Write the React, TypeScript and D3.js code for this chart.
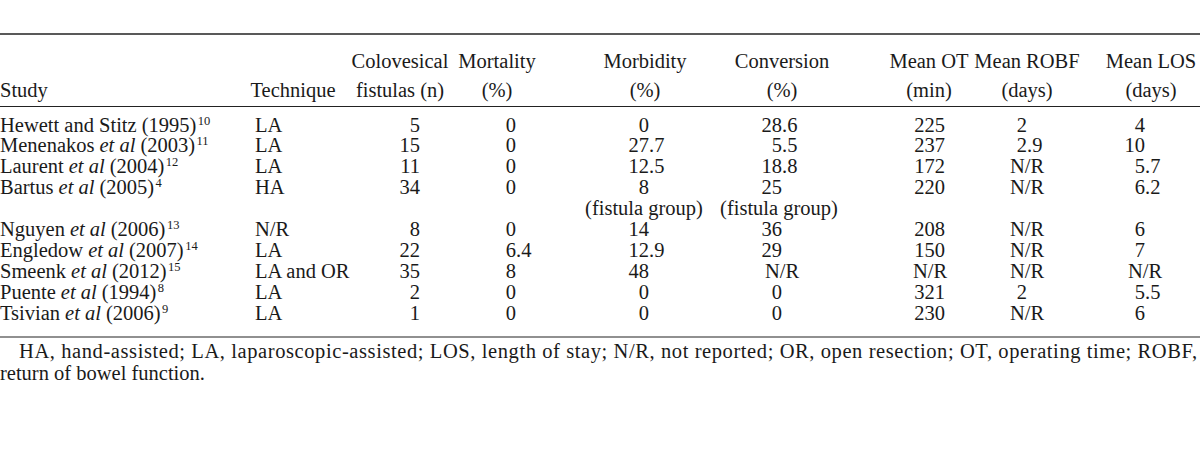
import React from "react";
import * as d3 from "d3";

// ---- Data ----
const studies = ["Hewett and Stitz", "Menenakos", "Laurent", "Bartus", "Nguyen", "Engledow", "Smeenk", "Puente", "Tsivian"];
const etAl = [false, true, true, true, true, true, true, true, true];
const years = ["1995", "2003", "2004", "2005", "2006", "2007", "2012", "1994", "2006"];
const refs = ["10", "11", "12", "4", "13", "14", "15", "8", "9"];
const techniques = ["LA", "LA", "LA", "HA", "N/R", "LA", "LA and OR", "LA", "LA"];
const fistulas = ["5", "15", "11", "34", "8", "22", "35", "2", "1"];
const mortality = ["0", "0", "0", "0", "0", "6.4", "8", "0", "0"];
const morbidity = ["0", "27.7", "12.5", "8", "14", "12.9", "48", "0", "0"];
const conversion = ["28.6", "5.5", "18.8", "25", "36", "29", "N/R", "0", "0"];
const meanOT = ["225", "237", "172", "220", "208", "150", "N/R", "321", "230"];
const meanROBF = ["2", "2.9", "N/R", "N/R", "N/R", "N/R", "N/R", "2", "N/R"];
const meanLOS = ["4", "10", "5.7", "6.2", "6", "7", "N/R", "5.5", "6"];
const morbidityNotes = ["", "", "", "(fistula group)", "", "", "", "", ""];
const conversionNotes = ["", "", "", "(fistula group)", "", "", "", "", ""];
const headerLine1 = ["", "", "Colovesical", "Mortality", "Morbidity", "Conversion", "Mean OT", "Mean ROBF", "Mean LOS"];
const headerLine2 = ["Study", "Technique", "fistulas (n)", "(%)", "(%)", "(%)", "(min)", "(days)", "(days)"];
const footnote1 = "HA, hand-assisted; LA, laparoscopic-assisted; LOS, length of stay; N/R, not reported; OR, open resection; OT, operating time; ROBF,";
const footnote2 = "return of bowel function.";

// ---- Layout ----
const W = 1200, H = 455;
const FONT = "'Liberation Serif', 'Times New Roman', serif";
const FS = 20.5;
const headerCenters = [0, 293, 400, 497, 645, 782, 929, 1027, 1151];
// integer-part right edge anchors for numeric columns
const anchors = [0, 255, 420, 516, 649, 782, 945, 1027, 1145];
const naCenters = [0, 0, 0, 0, 0, 782, 930, 1027, 1145];

// row slots: Bartus has an extra note row beneath it
const slotIndex: number[] = [];
{
  let s = 0;
  studies.forEach((_, i) => {
    slotIndex.push(s);
    s += morbidityNotes[i] ? 2 : 1;
  });
}
const nSlots = slotIndex[slotIndex.length - 1] + 1;
const y = d3.scaleLinear().domain([0, nSlots - 1]).range([131.5, 320]);

function NumCell({ v, col, yy }: { v: string; col: number; yy: number }) {
  if (v === "N/R") {
    return <text x={naCenters[col]} y={yy} textAnchor="middle">{v}</text>;
  }
  const [ip, dp] = v.split(".");
  return (
    <g>
      <text x={anchors[col]} y={yy} textAnchor="end">{ip}</text>
      {dp !== undefined && <text x={anchors[col]} y={yy} textAnchor="start">{"." + dp}</text>}
    </g>
  );
}

export default function App() {
  const cols = [fistulas, mortality, morbidity, conversion, meanOT, meanROBF, meanLOS];
  return (
    <svg width={W} height={H} style={{ position: "absolute", left: 0, top: 0, background: "#fff" }}
      fontFamily={FONT} fontSize={FS} fill="#1a1a1a">
      <rect width={W} height={H} fill="#fff" />
      {/* rules */}
      <line x1={0} x2={W} y1={34} y2={34} stroke="#222" strokeWidth={1.5} />
      <line x1={0} x2={W} y1={106.5} y2={106.5} stroke="#222" strokeWidth={1.2} />
      <line x1={0} x2={W} y1={337} y2={337} stroke="#222" strokeWidth={1.2} />
      {/* headers */}
      {headerLine1.map((h, i) => h && (
        <text key={"h1" + i} x={headerCenters[i]} y={68} textAnchor="middle">{h}</text>
      ))}
      {headerLine2.map((h, i) => (
        <text key={"h2" + i} x={i === 0 ? 0 : headerCenters[i]} y={97} textAnchor={i === 0 ? "start" : "middle"}>{h}</text>
      ))}
      {/* body */}
      {studies.map((s, i) => {
        const yy = y(slotIndex[i]);
        return (
          <g key={s}>
            <text x={0} y={yy}>
              {s}
              {etAl[i] && <tspan fontStyle="italic" dx={5}>et al</tspan>}
              <tspan dx={5}>{"(" + years[i] + ")"}</tspan>
            </text>
            <text x={0} y={yy} fill="none" visibility="hidden">{""}</text>
            <SupRef yy={yy} i={i} />
            <text x={anchors[1]} y={yy}>{techniques[i]}</text>
            {cols.map((c, j) => <NumCell key={j} v={c[i]} col={j + 2} yy={yy} />)}
            {morbidityNotes[i] && <text x={644} y={y(slotIndex[i] + 1)} textAnchor="middle">{morbidityNotes[i]}</text>}
            {conversionNotes[i] && <text x={779} y={y(slotIndex[i] + 1)} textAnchor="middle">{conversionNotes[i]}</text>}
          </g>
        );
      })}
      {/* footnotes */}
      <text x={19} y={358} textLength={1178} lengthAdjust="spacing">{footnote1}</text>
      <text x={0} y={380}>{footnote2}</text>
    </svg>
  );
}

// superscript reference placed right after the study text, measured at render time
function SupRef({ yy, i }: { yy: number; i: number }) {
  const ref = React.useRef<SVGTextElement>(null);
  React.useLayoutEffect(() => {
    const el = ref.current;
    if (!el) return;
    const prev = el.previousSibling?.previousSibling as SVGTextElement | null;
    if (prev && (prev as any).getComputedTextLength) {
      const w = prev.getBBox().width;
      el.setAttribute("x", String(w + 1.5));
    }
  }, []);
  return <text ref={ref} x={0} y={yy - 7} fontSize={12.5}>{refs[i]}</text>;
}
